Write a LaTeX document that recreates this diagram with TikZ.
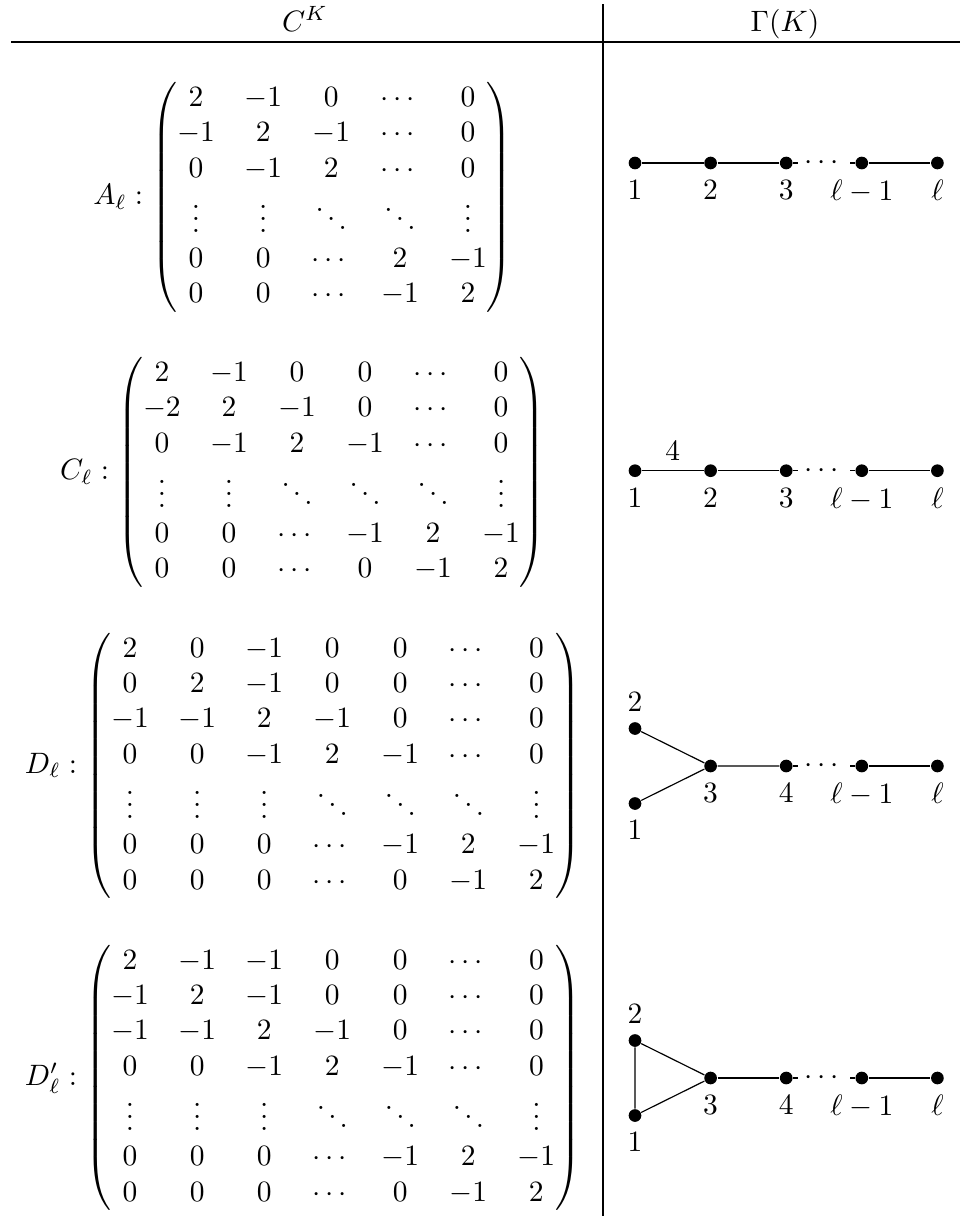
\documentclass[tikz,border=0pt]{standalone}
\usepackage{amsmath}
\usetikzlibrary{positioning}

\begin{document}
\begin{tikzpicture}[x=0.339pt, y=-0.339pt,
    dot/.style={circle, fill=black, inner sep=0pt, minimum size=4.3pt, label distance=-1.5pt},
    tablerule/.style={line width=0.9pt},
    gap/.style={fill=white, inner sep=2pt}]
    \useasboundingbox (0,0) rectangle (960,1216);
    % Definitions
    \coordinate (Hleft)  at (11,42);
    \coordinate (Hright) at (960,42);
    \coordinate (Vtop)   at (603,4);
    \coordinate (Vbot)   at (603,1216);
    % Table lines
    \draw[tablerule] (Hleft) -- (Hright);
    \draw[tablerule] (Vtop)  -- (Vbot);
    % Header
    \node[anchor=base] (CK)    at (305,31.5) {$C^K$};
    \node[anchor=base] (Gamma) at (785,31.5) {$\Gamma(K)$};
    % Cartan matrices
    \node (Amat) at (303,197.5) {$A_\ell : \begin{pmatrix}
        2 & -1 & 0 & \cdots & 0 \\
        -1 & 2 & -1 & \cdots & 0 \\
        0 & -1 & 2 & \cdots & 0 \\
        \vdots & \vdots & \ddots & \ddots & \vdots \\
        0 & 0 & \cdots & 2 & -1 \\
        0 & 0 & \cdots & -1 & 2
    \end{pmatrix}$};
    \node (Cmat) at (303,472.5) {$C_\ell : \begin{pmatrix}
        2 & -1 & 0 & 0 & \cdots & 0 \\
        -2 & 2 & -1 & 0 & \cdots & 0 \\
        0 & -1 & 2 & -1 & \cdots & 0 \\
        \vdots & \vdots & \ddots & \ddots & \ddots & \vdots \\
        0 & 0 & \cdots & -1 & 2 & -1 \\
        0 & 0 & \cdots & 0 & -1 & 2
    \end{pmatrix}$};
    \node (Dmat) at (303,766) {$D_\ell : \begin{pmatrix}
        2 & 0 & -1 & 0 & 0 & \cdots & 0 \\
        0 & 2 & -1 & 0 & 0 & \cdots & 0 \\
        -1 & -1 & 2 & -1 & 0 & \cdots & 0 \\
        0 & 0 & -1 & 2 & -1 & \cdots & 0 \\
        \vdots & \vdots & \vdots & \ddots & \ddots & \ddots & \vdots \\
        0 & 0 & 0 & \cdots & -1 & 2 & -1 \\
        0 & 0 & 0 & \cdots & 0 & -1 & 2
    \end{pmatrix}$};
    \node (DDmat) at (303,1078) {$D'_\ell : \begin{pmatrix}
        2 & -1 & -1 & 0 & 0 & \cdots & 0 \\
        -1 & 2 & -1 & 0 & 0 & \cdots & 0 \\
        -1 & -1 & 2 & -1 & 0 & \cdots & 0 \\
        0 & 0 & -1 & 2 & -1 & \cdots & 0 \\
        \vdots & \vdots & \vdots & \ddots & \ddots & \ddots & \vdots \\
        0 & 0 & 0 & \cdots & -1 & 2 & -1 \\
        0 & 0 & 0 & \cdots & 0 & -1 & 2
    \end{pmatrix}$};
    % Graph A
    \node[dot, label=below:$1$]       (a1) at (635,163)   {};
    \node[dot, label=below:$2$]       (a2) at (710.6,163) {};
    \node[dot, label=below:$3$]       (a3) at (786.2,163) {};
    \node[dot, label=below:$\ell-1$]  (a4) at (861.8,163) {};
    \node[dot, label=below:$\ell$]    (a5) at (937.4,163) {};
    \draw (a1) -- (a2) -- (a3);
    \draw (a3) -- node[gap] {$\cdots$} (a4);
    \draw (a4) -- (a5);
    % Graph C
    \node[dot, label=below:$1$]       (c1) at (635,470.7)   {};
    \node[dot, label=below:$2$]       (c2) at (710.6,470.7) {};
    \node[dot, label=below:$3$]       (c3) at (786.2,470.7) {};
    \node[dot, label=below:$\ell-1$]  (c4) at (861.8,470.7) {};
    \node[dot, label=below:$\ell$]    (c5) at (937.4,470.7) {};
    \draw (c1) -- node[above] {$4$} (c2);  % weighted edge
    \draw (c2) -- (c3);
    \draw (c3) -- node[gap] {$\cdots$} (c4);
    \draw (c4) -- (c5);
    % Graph D
    \node[dot, label=above:$2$]       (d2) at (635,728.5)   {};
    \node[dot, label=below:$1$]       (d1) at (635,803.5)   {};
    \node[dot, label=below:$3$]       (d3) at (710.6,766)   {};
    \node[dot, label=below:$4$]       (d4) at (786.2,766)   {};
    \node[dot, label=below:$\ell-1$]  (d5) at (861.8,766)   {};
    \node[dot, label=below:$\ell$]    (d6) at (937.4,766)   {};
    \draw (d2) -- (d3) -- (d4);
    \draw (d1) -- (d3);
    \draw (d4) -- node[gap] {$\cdots$} (d5);
    \draw (d5) -- (d6);
    % Graph D'
    \node[dot, label=above:$2$]       (e2) at (635,1040.5)  {};
    \node[dot, label=below:$1$]       (e1) at (635,1115.5)  {};
    \node[dot, label=below:$3$]       (e3) at (710.6,1078)  {};
    \node[dot, label=below:$4$]       (e4) at (786.2,1078)  {};
    \node[dot, label=below:$\ell-1$]  (e5) at (861.8,1078)  {};
    \node[dot, label=below:$\ell$]    (e6) at (937.4,1078)  {};
    \draw (e1) -- (e2) -- (e3) -- (e1);  % triangle
    \draw (e3) -- (e4);
    \draw (e4) -- node[gap] {$\cdots$} (e5);
    \draw (e5) -- (e6);
\end{tikzpicture}
\end{document}
